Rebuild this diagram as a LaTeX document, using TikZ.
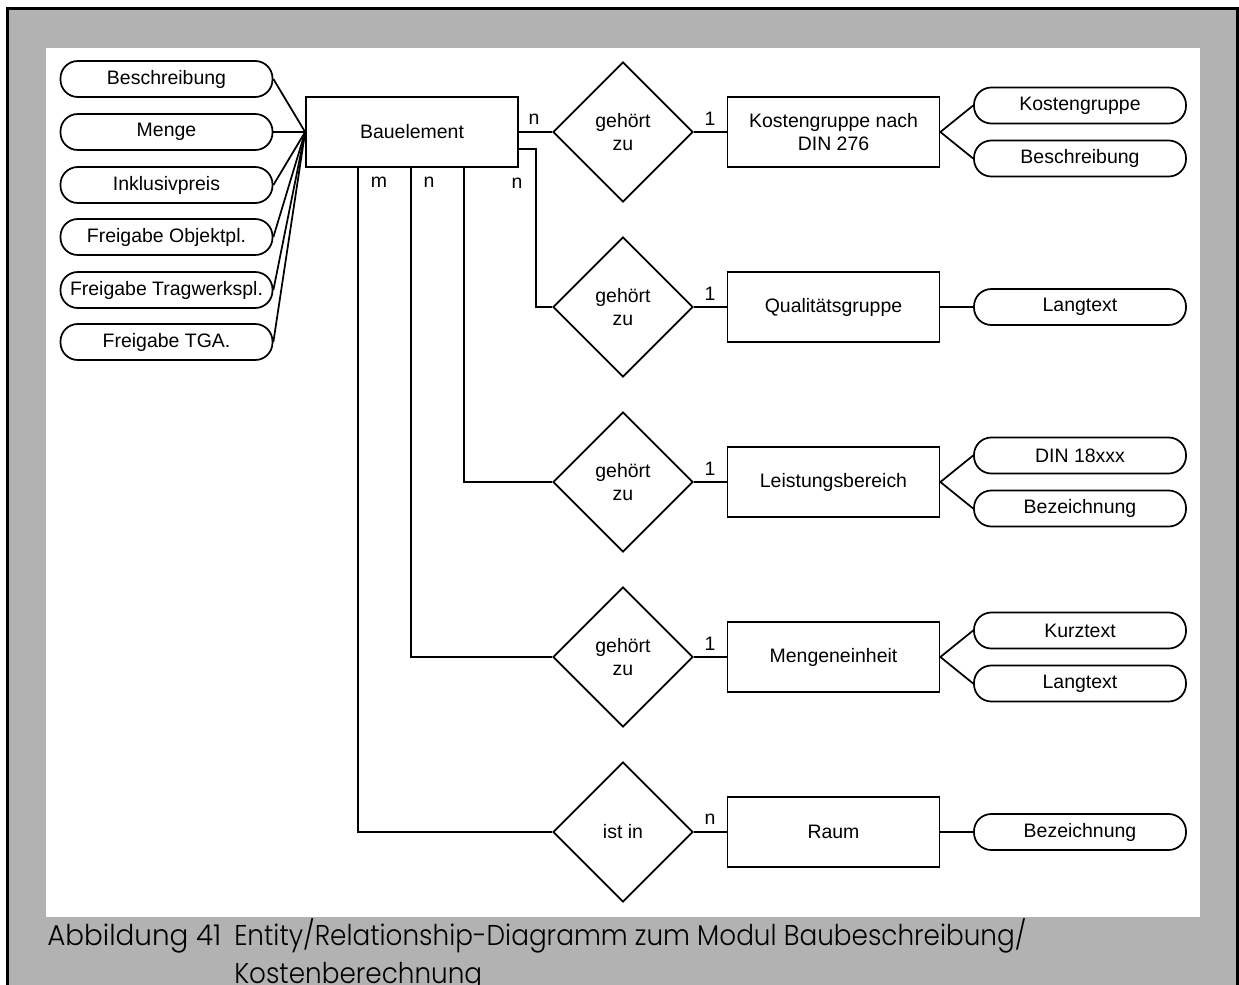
\documentclass[tikz,border=0pt]{standalone}
\usepackage{fontspec}
\setmainfont{Liberation Sans}
\newfontfamily\capfont{Poppins}[UprightFont=* Light]
\usetikzlibrary{shapes.geometric,calc}

\begin{document}
\begin{tikzpicture}[x=0.75pt,y=-0.75pt,
  txt/.style={font=\fontsize{14.6pt}{17.6pt}\selectfont},
  entity/.style={txt, draw, rectangle, minimum width=159pt, minimum height=52.5pt,
    inner sep=0pt, align=center, line width=1.3pt},
  attr/.style={txt, draw, rectangle, rounded corners=13pt, minimum width=159pt,
    minimum height=27pt, inner sep=0pt, line width=1.3pt},
  rel/.style={txt, draw, diamond, minimum width=105pt, minimum height=105pt,
    inner sep=0pt, align=center, line width=1.3pt},
  card/.style={txt, inner sep=0pt},
  link/.style={line width=1.3pt},
  caption/.style={font=\capfont\fontsize{21.5pt}{26pt}\selectfont, inner sep=0pt, anchor=base west}
]
\useasboundingbox (0,0) rectangle (1239,985);

% page frame
\fill[white] (0,0) rectangle (1239,985);
\fill[black!30] (7,8.5) rectangle (1237.5,990);
\draw[line width=2.25pt] (7,990) -- (7,8.5) -- (1237.5,8.5) -- (1237.5,990);
\fill[white] (46,48) rectangle (1200,917);

% central entity and its attributes
\node[entity] (bau) at (412,132) {Bauelement};
\node[attr] (a1) at (166.5,79)  {Beschreibung};
\node[attr] (a2) at (166.5,132) {Menge};
\node[attr] (a3) at (166.5,185) {Inklusivpreis};
\node[attr] (a4) at (166.5,237) {Freigabe Objektpl.};
\node[attr] (a5) at (166.5,290) {Freigabe Tragwerkspl.};
\node[attr] (a6) at (166.5,342) {Freigabe TGA.};
\foreach \a in {a1,a2,a3,a4,a5,a6} \draw[link] (\a.east) -- (bau.west);

% relationships
\node[rel] (d1) at (623,132) {gehört\\zu};
\node[rel] (d2) at (623,307) {gehört\\zu};
\node[rel] (d3) at (623,482) {gehört\\zu};
\node[rel] (d4) at (623,657) {gehört\\zu};
\node[rel] (d5) at (623,832) {ist in};

% related entities
\node[entity] (kg)   at (833.5,132) {Kostengruppe nach\\DIN 276};
\node[entity] (qg)   at (833.5,307) {Qualitätsgruppe};
\node[entity] (lb)   at (833.5,482) {Leistungsbereich};
\node[entity] (me)   at (833.5,657) {Mengeneinheit};
\node[entity] (raum) at (833.5,832) {Raum};

% their attributes
\node[attr] (r1) at (1080,105.5) {Kostengruppe};
\node[attr] (r2) at (1080,158.5) {Beschreibung};
\node[attr] (r3) at (1080,307)   {Langtext};
\node[attr] (r4) at (1080,455.5) {DIN 18xxx};
\node[attr] (r5) at (1080,508.5) {Bezeichnung};
\node[attr] (r6) at (1080,630.5) {Kurztext};
\node[attr] (r7) at (1080,683.5) {Langtext};
\node[attr] (r8) at (1080,832)   {Bezeichnung};

\draw[link] (kg.east) -- (r1.west);
\draw[link] (kg.east) -- (r2.west);
\draw[link] (qg.east) -- (r3.west);
\draw[link] (lb.east) -- (r4.west);
\draw[link] (lb.east) -- (r5.west);
\draw[link] (me.east) -- (r6.west);
\draw[link] (me.east) -- (r7.west);
\draw[link] (raum.east) -- (r8.west);

% relationship connectors
\draw[link] (bau.east) -- (d1.west);
\draw[link] ([yshift=-12.75pt]bau.east) -- ++(17,0) |- (d2.west);
\draw[link] ($(bau.south west)+(159,0)$) |- (d3.west);
\draw[link] ($(bau.south west)+(106,0)$) |- (d4.west);
\draw[link] ($(bau.south west)+(53,0)$)  |- (d5.west);
\foreach \d/\e in {d1/kg,d2/qg,d3/lb,d4/me,d5/raum} \draw[link] (\d.east) -- (\e.west);

% cardinalities
\node[card] (c1) at (534,119) {n};
\node[card] (c2) at (517,183) {n};
\node[card] (c3) at (379,182) {m};
\node[card] (c4) at (429,182) {n};
\node[card] (k1) at (710,119) {1};
\node[card] (k2) at (710,294) {1};
\node[card] (k3) at (710,469) {1};
\node[card] (k4) at (710,644) {1};
\node[card] (k5) at (710,819) {n};

% caption
\node[caption] (capnum) at (47,945) {\scalebox{0.97}[1]{Abbildung 41}};
\node[caption] (cap1) at (234,945) {\scalebox{0.917}[1]{Entity/Relationship-Diagramm zum Modul Baubeschreibung/}};
\node[caption] (cap2) at (234,983) {\scalebox{0.917}[1]{Kostenberechnung}};
\end{tikzpicture}
\end{document}
